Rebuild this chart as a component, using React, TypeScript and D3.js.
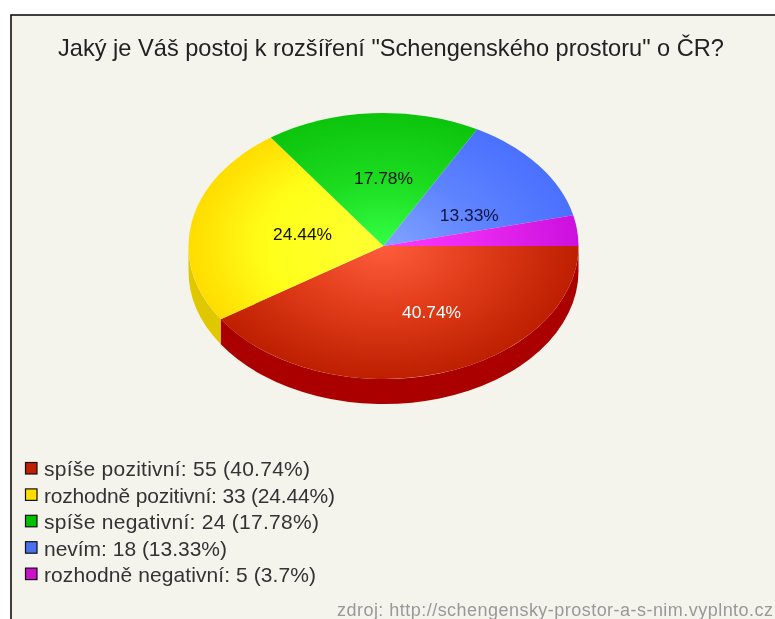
import React from "react";
import * as d3 from "d3";

const title = 'Jaký je Váš postoj k rozšíření "Schengenského prostoru" o ČR?';
const source = "zdroj: http://schengensky-prostor-a-s-nim.vyplnto.cz";
const categories = ["spíše pozitivní", "rozhodně pozitivní", "spíše negativní", "nevím", "rozhodně negativní"];
const counts = [55, 33, 24, 18, 5];
const percents = ["40.74", "24.44", "17.78", "13.33", "3.7"];
const sliceLabels = ["40.74%", "24.44%", "17.78%", "13.33%", ""];
const labelColors = ["#ffffff", "#111111", "#111111", "#111144", "#111111"];
const innerColors = ["#ff5c3c", "#ffff33", "#33ff44", "#82a4ff", "#ff38ff"];
const midColors = ["#e03c1a", "#ffff1a", "#1cdc20", "#5f84ff", "#e828f0"];
const outerColors = ["#bd1f00", "#ffdc00", "#0cc40c", "#4a70ff", "#cc10dd"];
const midStops = [0.5, 0.6, 0.5, 0.5, 0.5];
const sideColors = ["#aa0000", "#e0c800", "#0a9a0a", "#3050c0", "#a000b0"];
const legendColors = ["#c02000", "#ffdd00", "#00c000", "#4a70f0", "#cc10cc"];
// label anchor: radius fraction and shift along the slice's mid-angle
const labelRadii = [0.554, 0.425, 0.51, 0.498, 0];
const labelTurn = [-0.17, 0.03, 0.058, 0.164, 0];
const legendWidths = [266, 291, 275, 183, 272];

const W = 775, H = 619;
const cx = 383.5, cy = 246, rx = 195, ry = 133, depth = 25;

export default function App() {
  const pie = d3.pie<number>().sort(null).startAngle(Math.PI / 2).endAngle(Math.PI * 2.5);
  const slices = pie(counts);
  const arc = d3.arc<d3.PieArcDatum<number>>().innerRadius(0).outerRadius(1);

  // d3 angle a: x = sin a, y = -cos a. Front wall is a in [PI/2, 3PI/2].
  const sidePath = (s: d3.PieArcDatum<number>) => {
    const a0 = Math.max(s.startAngle, Math.PI / 2);
    const a1 = Math.min(s.endAngle, (3 * Math.PI) / 2);
    if (a1 <= a0) return null;
    const px = (a: number) => cx + rx * Math.sin(a);
    const py = (a: number) => cy - ry * Math.cos(a);
    return `M${px(a0)},${py(a0)}A${rx},${ry} 0 0 1 ${px(a1)},${py(a1)}L${px(a1)},${py(a1) + depth}A${rx},${ry} 0 0 0 ${px(a0)},${py(a0) + depth}Z`;
  };

  return (
    <svg width={W} height={H} viewBox={`0 0 ${W} ${H}`} style={{ position: "absolute", left: 0, top: 0, background: "#fff" }}>
      <defs>
        {slices.map((_, i) => (
          <radialGradient key={i} id={`g${i}`} gradientUnits="userSpaceOnUse" cx={0} cy={0} r={1}>
            <stop offset="0" stopColor={innerColors[i]} />
            <stop offset={midStops[i]} stopColor={midColors[i]} />
            <stop offset="1" stopColor={outerColors[i]} />
          </radialGradient>
        ))}
      </defs>
      <g style={{ filter: "blur(0.45px)" }}>
        <rect x={11} y={15} width={W} height={H} fill="#f4f3ec" stroke="#111" strokeWidth={1.6} />
        <text x={391} y={55.5} textAnchor="middle" fontFamily="Liberation Sans" fontSize={23.6} fill="#222">{title}</text>

        {slices.map((s, i) => {
          const d = sidePath(s);
          return d ? <path key={i} d={d} fill={sideColors[i]} /> : null;
        })}
        <g transform={`translate(${cx},${cy}) scale(${rx},${ry})`}>
          {slices.map((s, i) => <path key={i} d={arc(s) ?? ""} fill={`url(#g${i})`} />)}
        </g>
        {slices.map((s, i) => {
          const a = (s.startAngle + s.endAngle) / 2 + labelTurn[i];
          return (
            <text key={i} x={cx + rx * labelRadii[i] * Math.sin(a)} y={cy - ry * labelRadii[i] * Math.cos(a) + 6}
              textAnchor="middle" fontFamily="Liberation Sans" fontSize={17.4} fill={labelColors[i]}>{sliceLabels[i]}</text>
          );
        })}

        {categories.map((c, i) => {
          const y = 469 + i * 26.4;
          return (
            <g key={c}>
              <rect x={25.5} y={y - 6.5} width={11.5} height={11.5} fill={legendColors[i]} stroke="#111" strokeWidth={1.2} />
              <text x={44} y={y + 7.3} fontFamily="Liberation Sans" fontSize={21} fill="#333"
                textLength={legendWidths[i]} lengthAdjust="spacing">
                {`${c}: ${counts[i]} (${percents[i]}%)`}
              </text>
            </g>
          );
        })}
        <text x={337} y={616} fontFamily="Liberation Sans" fontSize={18} fill="#999" textLength={436} lengthAdjust="spacing">{source}</text>
      </g>
    </svg>
  );
}
